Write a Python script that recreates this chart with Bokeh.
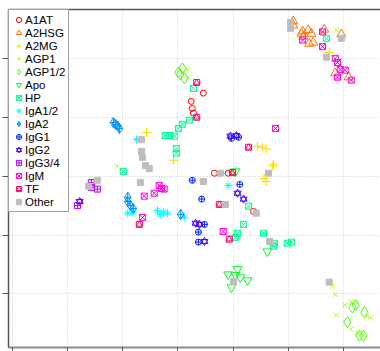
from bokeh.plotting import figure
from bokeh.models import Legend, LegendItem, LinearAxis, FixedTicker, Range1d, Grid
from bokeh.embed import file_html
from bokeh.resources import INLINE

# ---- data ----
x_ticks = [-3, -2, -1, 0, 1, 2, 3]
y_ticks = [-2, -1, 0, 1, 2]

a1at_x = [0.46, 0.24, 0.26, 0.28, 0.66, 0.91, 1.37]
a1at_y = [1.41, 1.27, 1.15, 1.07, 0.05, 0.05, -0.60]

a2hsg_x = [2.09, 2.09, 2.26, 2.36, 2.42, 2.24, 2.27, 2.38, 2.45, 2.65, 2.96, 2.85, 3.09]
a2hsg_y = [2.63, 2.56, 2.46, 2.48, 2.42, 2.42, 2.37, 2.25, 2.27, 2.49, 2.41, 1.75, 1.68]

a2mg_x = [-0.57, -0.08, 1.44, 1.53, 1.60, 1.71, 1.73, 1.56, 1.60, 2.74]
a2mg_y = [0.74, 0.27, 0.51, 0.49, 0.46, 0.17, 0.20, -0.04, -0.09, 2.10]

agp1_x = [0.17, 0.19, 2.87, -1.10, 2.80, 2.85, 3.02, 3.13, 3.22, 2.87, 3.43, 3.49, 3.13, 3.25]
agp1_y = [1.80, 1.68, 2.48, 0.17, -1.87, -2.01, -2.19, -2.13, -2.14, -2.36, -2.38, -2.41, -2.60, -2.65]

agp12_x = [0.08, 0.04, 0.12, 0.01, 3.16, 3.22, 3.07, 3.38, 3.29, 3.36]
agp12_y = [1.83, 1.73, 1.66, 1.76, -2.23, -2.19, -2.48, -2.31, -2.71, -2.71]

apo_x = [1.04, 1.62, 0.91, 1.08, 1.04, 1.13, 1.26, 0.97]
apo_y = [0.08, -1.28, -1.67, -1.58, -1.68, -1.72, -1.77, -1.89]

hp_x = [2.69, 0.28, 0.21, 0.08, 0.01, -0.06, -0.15, -0.23, -0.03, -0.03, -0.99,
        1.28, 1.19, 1.08, 1.04, 1.55, 1.75, 1.73, 1.98, 2.06]
hp_y = [2.34, 1.49, 0.95, 0.88, 0.81, 0.68, 0.69, 0.69, 0.47, 0.39, 0.08,
        -0.51, -0.82, -0.97, -1.04, -0.97, -1.14, -1.19, -1.14, -1.12]

iga12_x = [-0.91, -0.82, -0.37, -0.32, -0.26, -0.19, 0.12, 0.91, -0.75]
iga12_y = [-0.63, -0.61, -0.58, -0.65, -0.61, -0.63, -0.70, -0.16, 0.62]

iga2_x = [-1.17, -1.13, -1.09, -1.06, -0.91, -0.91, -0.86, -0.81, 0.05]
iga2_y = [0.91, 0.88, 0.85, 0.81, -0.36, -0.43, -0.50, -0.55, -0.65]

igg1_x = [0.97, 1.10, 0.26, 1.12, 0.43, 0.48, 0.37, 0.37]
igg1_y = [0.64, 0.66, -0.07, -0.14, -0.39, -0.82, -0.95, -1.12]

igg2_x = [0.95, 1.06, 1.08, 1.19, 0.32, 0.39, 0.48, -1.78]
igg2_y = [0.68, 0.69, -0.29, -0.39, -0.80, -0.82, -1.11, -0.43]

igg34_x = [-1.57, -1.57, -1.46, -1.82]
igg34_y = [-0.11, -0.19, -0.22, -0.50]

igm_x = [2.26, 2.62, 2.62, 2.85, 2.89, 2.94, 3.03, 2.89, 3.14, 1.77,
         -0.34, -0.30, -0.25, -0.43, -0.61, -0.64, 0.82]
igm_y = [2.31, 2.45, 2.20, 2.00, 1.93, 1.81, 1.80, 1.68, 1.63, 0.81,
         -0.16, -0.21, -0.22, -0.29, -0.34, -0.70, -0.94]

tf_x = [0.34, 0.34, 1.28, 0.99, 0.75, 0.93, -0.70]
tf_y = [1.59, 1.00, 0.49, 0.06, -0.48, -1.07, -0.82]

other_x = [2.04, 2.04, 2.96, 2.69, 1.64, -0.66, -0.66, -0.64, -0.59, -0.52,
           0.77, -0.68, -1.46, -1.62, 0.46, 0.86, 1.42, 1.66, 1.01, 2.74]
other_y = [2.61, 2.51, 2.34, 2.02, 0.05, 0.62, 0.42, 0.32, 0.18, 0.13,
           0.05, -0.11, -0.07, -0.17, -0.09, -0.48, -0.63, -1.11, -1.79, -1.80]

labels = ["A1AT", "A2HSG", "A2MG", "AGP1", "AGP1/2", "Apo", "HP", "IgA1/2",
          "IgA2", "IgG1", "IgG2", "IgG3/4", "IgM", "TF", "Other"]
colors = ["#FF0000", "#FF6D00", "#FFDB00", "#B6FF00", "#49FF00", "#00FF24",
          "#00FF92", "#00FFFF", "#0092FF", "#0024FF", "#4900FF", "#B600FF",
          "#FF00DB", "#FF006D", "#BEBEBE"]

series = [
    (a1at_x, a1at_y, [("circle", 6)]),
    (a2hsg_x, a2hsg_y, [("triangle", 9)]),
    (a2mg_x, a2mg_y, [("cross", 9)]),
    (agp1_x, agp1_y, [("x", 7)]),
    (agp12_x, agp12_y, [("diamond", 11)]),
    (apo_x, apo_y, [("inverted_triangle", 9)]),
    (hp_x, hp_y, [("square_x", 6)]),
    (iga12_x, iga12_y, [("asterisk", 8)]),
    (iga2_x, iga2_y, [("diamond_cross", 10)]),
    (igg1_x, igg1_y, [("circle_cross", 6)]),
    (igg2_x, igg2_y, [("triangle", 7), ("inverted_triangle", 7)]),
    (igg34_x, igg34_y, [("square_cross", 6)]),
    (igm_x, igm_y, [("square_x", 6)]),
    (tf_x, tf_y, [("square", 6), ("triangle", 6)]),
    (other_x, other_y, [("square", 6)]),
]

p = figure(width=380, height=351, output_backend="svg", toolbar_location=None,
           x_range=Range1d(-3.07, 3.67), y_range=Range1d(-2.91, 2.83),
           min_border_left=8, min_border_top=9, min_border_bottom=4, min_border_right=0,
           x_axis_type=None, y_axis_type=None)
p.outline_line_color = None
p.background_fill_color = "white"
p.border_fill_color = "white"

xaxis = LinearAxis(ticker=FixedTicker(ticks=x_ticks))
yaxis = LinearAxis(ticker=FixedTicker(ticks=y_ticks))
top = LinearAxis(ticker=FixedTicker(ticks=[]))
for ax, tout, col, w in [(xaxis, 4, "#8a8a8a", 2), (yaxis, 6, "#555555", 1.5), (top, 0, "#555555", 1.5)]:
    ax.major_tick_out = tout
    ax.major_tick_in = 0
    ax.minor_tick_line_color = None
    ax.major_label_text_font_size = "0px"
    ax.major_label_text_color = None
    ax.major_label_standoff = 0
    ax.axis_line_color = col
    ax.axis_line_width = w
    ax.major_tick_line_color = "#555555"
    ax.major_tick_line_width = 1
p.add_layout(xaxis, "below")
p.add_layout(yaxis, "left")
p.add_layout(top, "above")

for dim, tk in [(0, x_ticks), (1, y_ticks)]:
    g = Grid(dimension=dim, ticker=FixedTicker(ticks=tk),
             grid_line_color="#cfcfcf", grid_line_dash="1 2", grid_line_width=1)
    p.add_layout(g)

items = []
for (xs, ys, marks), lab, col in zip(series, labels, colors):
    rs = []
    for m, s in marks:
        if lab == "Other":
            r = p.scatter(xs, ys, marker=m, size=s, fill_color=col, line_color=col, line_width=1)
        else:
            r = p.scatter(xs, ys, marker=m, size=s, fill_color=None, line_color=col, line_width=1)
        rs.append(r)
    items.append(LegendItem(label=lab, renderers=rs))

legend = Legend(items=items, location="top_left", margin=0, padding=3, spacing=0,
                label_height=13, glyph_height=13, glyph_width=13, label_standoff=0,
                label_text_font="Liberation Sans", label_text_font_size="11.5px",
                label_text_color="black",
                border_line_color="#444444", border_line_width=1,
                background_fill_color="white", background_fill_alpha=1)
p.add_layout(legend, "center")

open("out.html", "w").write(file_html(p, INLINE))
